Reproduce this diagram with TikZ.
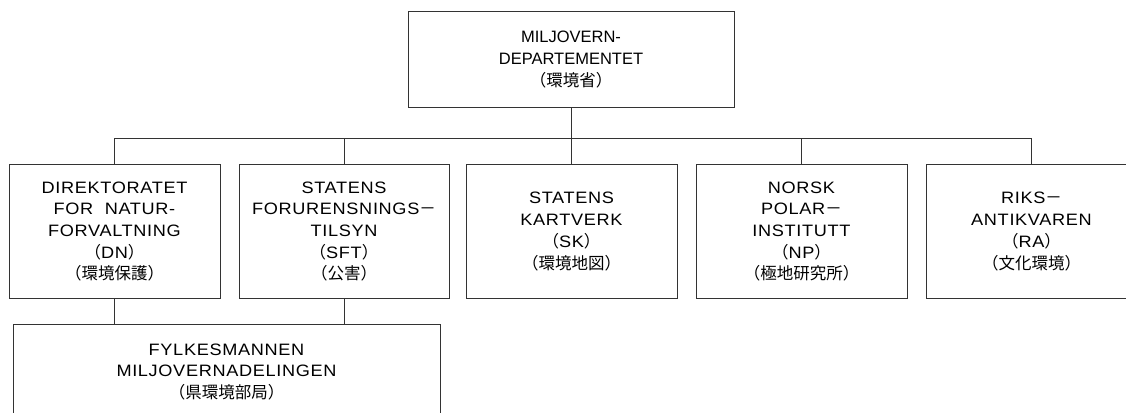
\documentclass[tikz,border=0pt]{standalone}
\usepackage{fontspec}
\setmainfont{Liberation Sans}
\newfontfamily\spacedfont[FakeStretch=1.1,LetterSpace=4]{Liberation Sans}
\newfontfamily\cjk{Noto Sans CJK JP}
\newcommand{\jp}[1]{{\cjk #1}}
\begin{document}
\begin{tikzpicture}[x=1pt,y=-1pt,
  box/.style={draw=black!80,line width=1pt,rectangle,inner sep=0pt,align=center,
    font=\fontsize{16.5}{21.7}\selectfont},
  sbox/.style={box,font=\fontsize{16.5}{21.7}\spacedfont},
  conn/.style={draw=black!80,line width=1pt}]
\useasboundingbox (0,0) rectangle (1126,412);
\clip (0,0) rectangle (1126,412);
\node[box,minimum width=326pt,minimum height=95pt] (top) at (571,59.5)
  {MILJOVERN-\\DEPARTEMENTET\\\jp{（環境省）}};
\node[sbox,minimum width=211pt,minimum height=134pt] (dn) at (114.5,231.5)
  {DIREKTORATET\\FOR\ \ NATUR-\\FORVALTNING\\\jp{（}DN\jp{）}\\\jp{（環境保護）}};
\node[sbox,minimum width=210pt,minimum height=134pt] (sft) at (344,231.5)
  {STATENS\\FORURENSNINGS\jp{－}\\TILSYN\\\jp{（}SFT\jp{）}\\\jp{（公害）}};
\node[sbox,minimum width=211pt,minimum height=134pt] (sk) at (571.5,231.5)
  {STATENS\\KARTVERK\\\jp{（}SK\jp{）}\\\jp{（環境地図）}};
\node[sbox,minimum width=211pt,minimum height=134pt] (np) at (801.5,231.5)
  {NORSK\\POLAR\jp{－}\\INSTITUTT\\\jp{（}NP\jp{）}\\\jp{（極地研究所）}};
\node[sbox,minimum width=211pt,minimum height=134pt] (ra) at (1031.5,231.5)
  {RIKS\jp{－}\\ANTIKVAREN\\\jp{（}RA\jp{）}\\\jp{（文化環境）}};
\node[sbox,minimum width=427pt,minimum height=96pt] (fyl) at (226.5,372)
  {FYLKESMANNEN\\MILJOVERNADELINGEN\\\jp{（県環境部局）}};
\coordinate (bus) at (571,138.5);
\draw[conn] (top.south) -- (top.south |- bus);
\draw[conn] (dn.north) -- (dn.north |- bus) -- (ra.north |- bus) -- (ra.north);
\draw[conn] (sft.north) -- (sft.north |- bus);
\draw[conn] (sk.north) -- (sk.north |- bus);
\draw[conn] (np.north) -- (np.north |- bus);
\draw[conn] (dn.south) -- (dn.south |- fyl.north);
\draw[conn] (sft.south) -- (sft.south |- fyl.north);
\end{tikzpicture}
\end{document}
